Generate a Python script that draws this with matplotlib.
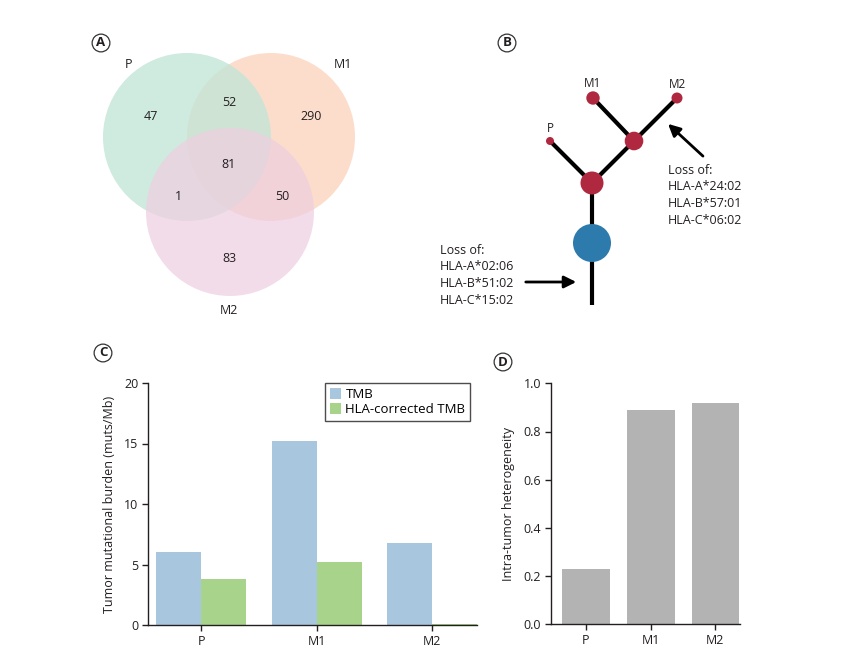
import matplotlib
matplotlib.use("Agg")
import matplotlib.pyplot as plt
from matplotlib.patches import Circle

plt.rcParams["font.family"] = ["Open Sans", "DejaVu Sans"]

# Panel A: Venn counts
venn_sets = ["P", "M1", "M2"]
venn_counts = {"P": 47, "M1": 290, "M2": 83, "P&M1": 52, "P&M2": 1,
               "M1&M2": 50, "P&M1&M2": 81}

# Panel B: HLA loss annotations
loss_trunk = ["HLA-A*02:06", "HLA-B*51:02", "HLA-C*15:02"]
loss_branch = ["HLA-A*24:02", "HLA-B*57:01", "HLA-C*06:02"]

# Panel C: tumour mutational burden
samples = ["P", "M1", "M2"]
tmb = [6.0, 15.2, 6.8]
tmb_hla = [3.8, 5.2, 0.05]

# Panel D: intra-tumour heterogeneity
ith = [0.23, 0.89, 0.92]

W, H = 860, 670
fig = plt.figure(figsize=(W / 100, H / 100), dpi=100)

# overlay axes in pixel coordinates for panels A and B
ov = fig.add_axes([0, 0, 1, 1])
ov.set_xlim(0, W)
ov.set_ylim(H, 0)
ov.axis("off")
TXT = "#231f20"


def panel_label(x, y, s):
    ov.text(x, y, s, ha="center", va="center", fontsize=9.5, fontweight="bold", color=TXT,
            bbox=dict(boxstyle="circle,pad=0.18", fc="white", ec="#333333", lw=0.9))


# ---- A: Venn  (drawn M1, then P, then M2 so overlaps look like the original)
centers = {"P": (187, 137), "M1": (271, 137), "M2": (230, 212)}
fills = {"M1": ("#fcddcb", 1.0), "P": ("#c3e5d7", 0.8), "M2": ("#efcee0", 0.7)}
for s in ["M1", "P", "M2"]:
    c, a = fills[s]
    ov.add_patch(Circle(centers[s], 84, fc=c, ec="none", alpha=a))
set_label_pos = {"P": (128, 64), "M1": (343, 65), "M2": (229, 310)}
for s in venn_sets:
    ov.text(*set_label_pos[s], s, ha="center", va="center", fontsize=9, color=TXT)
count_pos = {"P": (151, 116), "M1": (311, 116), "M2": (229, 258), "P&M1": (229, 103),
             "P&M2": (178, 196), "M1&M2": (282, 196), "P&M1&M2": (229, 165)}
for k, v in venn_counts.items():
    ov.text(*count_pos[k], str(v), ha="center", va="center", fontsize=9, color=TXT)
panel_label(101, 43, "A")

# ---- B: phylogenetic tree
red, blue = "#b0283f", "#2d7aac"
trunk_bottom, root, split = (592, 305), (592, 183), (634, 141)
leaves = {"P": (550, 141), "M1": (593, 98), "M2": (677, 98)}
edges = [(trunk_bottom, root), (root, leaves["P"]), (root, split),
         (split, leaves["M1"]), (split, leaves["M2"])]
for a, b in edges:
    ov.plot([a[0], b[0]], [a[1], b[1]], color="black", lw=3, solid_capstyle="butt", zorder=2)
ov.add_patch(Circle((592, 243), 19, fc=blue, ec="none", zorder=3))
ov.add_patch(Circle(root, 11.5, fc=red, ec="none", zorder=3))
ov.add_patch(Circle(split, 9.3, fc=red, ec="none", zorder=3))
node_r = {"P": 4, "M1": 6.7, "M2": 5.5}
for s in samples:
    ov.add_patch(Circle(leaves[s], node_r[s], fc=red, ec="none", zorder=3))
    ov.text(leaves[s][0], leaves[s][1] - node_r[s] - 8, s, ha="center", va="center",
            fontsize=8.5, color=TXT)

ov.annotate("", xy=(666, 122), xytext=(705, 158),
            arrowprops=dict(arrowstyle="-|>", color="black", lw=2, mutation_scale=18))
ov.text(668, 164, "\n".join(["Loss of:"] + loss_branch), ha="left", va="top",
        fontsize=9, color=TXT, linespacing=1.35)
ov.annotate("", xy=(579, 282), xytext=(523, 282),
            arrowprops=dict(arrowstyle="-|>", color="black", lw=2, mutation_scale=18))
ov.text(440, 244, "\n".join(["Loss of:"] + loss_trunk), ha="left", va="top",
        fontsize=9, color=TXT, linespacing=1.35)
panel_label(507, 43, "B")


def style_axes(ax):
    for sp in ["top", "right"]:
        ax.spines[sp].set_visible(False)
    for sp in ["left", "bottom"]:
        ax.spines[sp].set_color(TXT)
        ax.spines[sp].set_linewidth(1.0)
    ax.tick_params(direction="out", length=4, width=1, colors=TXT,
                   labelsize=9, pad=3)


# ---- C: TMB bars
axc = fig.add_axes([148 / W, 1 - 625 / H, (477 - 148) / W, (625 - 383) / H])
x = list(range(len(samples)))
bw = 0.39
axc.bar([i - bw / 2 for i in x], tmb, width=bw, color="#a9c6df", label="TMB")
axc.bar([i + bw / 2 for i in x], tmb_hla, width=bw, color="#a8d38a",
        label="HLA-corrected TMB")
axc.set_xlim(-0.46, 2.39)
axc.set_ylim(0, 20)
axc.set_yticks([0, 5, 10, 15, 20])
axc.set_xticks(x)
axc.set_xticklabels(samples)
axc.set_ylabel("Tumor mutational burden (muts/Mb)", fontsize=9, color=TXT, labelpad=6)
style_axes(axc)
leg = axc.legend(loc="upper right", bbox_to_anchor=((470 - 148) / (477 - 148), 1.0),
                 borderaxespad=0, fontsize=9.5, frameon=True, fancybox=False,
                 handlelength=0.9, handleheight=0.9, handletextpad=0.3,
                 borderpad=0.35, labelspacing=0.2)
leg.get_frame().set_edgecolor(TXT)
leg.get_frame().set_linewidth(1.0)
panel_label(103, 353, "C")

# ---- D: ITH bars
axd = fig.add_axes([551 / W, 1 - 624.3 / H, (740 - 551) / W, (624.3 - 383.3) / H])
axd.bar(x, ith, width=0.737, color="#b3b3b3")
axd.set_xlim(-0.54, 2.38)
axd.set_ylim(0, 1.0)
axd.set_yticks([0.0, 0.2, 0.4, 0.6, 0.8, 1.0])
axd.set_xticks(x)
axd.set_xticklabels(samples)
axd.set_ylabel("Intra-tumor heterogeneity", fontsize=9, color=TXT, labelpad=6)
style_axes(axd)
panel_label(503, 362, "D")

fig.savefig("out.png", dpi=100, facecolor="white")
